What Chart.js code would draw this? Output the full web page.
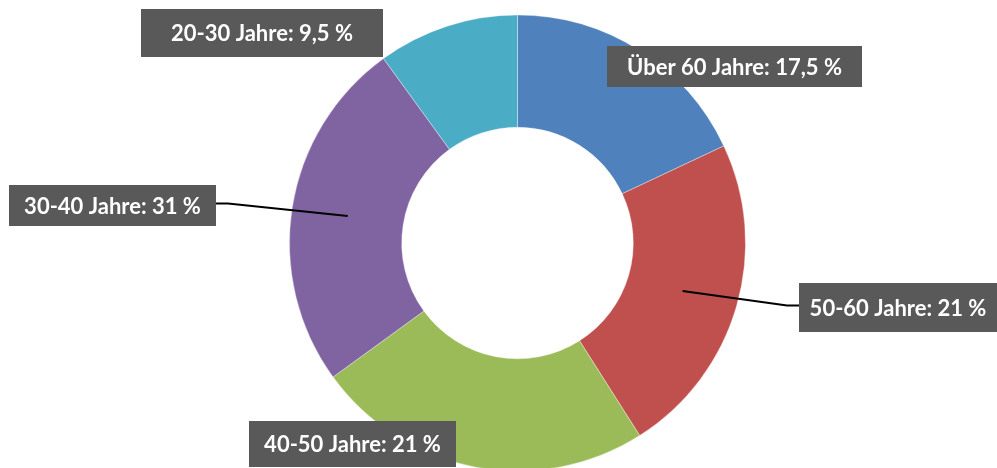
<!DOCTYPE html>
<html>
<head>
<meta charset="utf-8">
<script src="https://cdn.jsdelivr.net/npm/chart.js@4"></script>
<style>
    html, body { margin: 0; padding: 0; background: #ffffff; overflow: hidden; }
    #wrap { position: relative; width: 997px; height: 468px; }
</style>
</head>
<body>
<div id="wrap"><canvas id="ageChart" width="997" height="468"></canvas></div>
<script>
// data, clockwise from the top
const categories = ["Über 60 Jahre", "50-60 Jahre", "40-50 Jahre", "30-40 Jahre", "20-30 Jahre"];
const shares = [18, 23, 24, 25, 10];
const shareLabels = ["17,5 %", "21 %", "21 %", "31 %", "9,5 %"];
const sliceColors = ["#4f81bd", "#c0504d", "#9bbb59", "#8064a2", "#4bacc6"];

// label boxes (left, top, width, height), leader = draw a line to the slice
const labelBoxes = [
    { x: 607, y: 46, w: 255, h: 41, leader: false },
    { x: 799, y: 283, w: 198, h: 49, leader: true, side: "left" },
    { x: 249, y: 421, w: 207, h: 46, leader: false },
    { x: 9, y: 185, w: 207, h: 41, leader: true, side: "right" },
    { x: 141, y: 9, w: 242, h: 48, leader: false },
];

var ageChart = {};

ageChart.labelPlugin = {
    id: "labelBoxes",
    afterDatasetsDraw: function(chart) {
        const ctx = chart.ctx;
        const arcs = chart.getDatasetMeta(0).data;
        ctx.save();
        for (let i = 0; i < arcs.length; i++) {
            const box = labelBoxes[i];
            if (box.leader) {
                const p = arcs[i].tooltipPosition();
                const y = box.y + box.h / 2 - 2;
                const edge = box.side == "left" ? box.x : box.x + box.w;
                const knee = box.side == "left" ? edge - 12 : edge + 12;
                ctx.beginPath();
                ctx.moveTo(edge, y);
                ctx.lineTo(knee, y);
                ctx.lineTo(p.x, p.y);
                ctx.strokeStyle = "#000000";
                ctx.lineWidth = 2;
                ctx.stroke();
            }
            ctx.fillStyle = "#595959";
            ctx.fillRect(box.x, box.y, box.w, box.h);
            ctx.fillStyle = "#ffffff";
            ctx.font = "bold 22px Lato";
            ctx.textAlign = "center";
            ctx.textBaseline = "middle";
            ctx.fillText(categories[i] + ": " + shareLabels[i], box.x + box.w / 2, box.y + box.h / 2 + 1);
        }
        ctx.restore();
    },
};

ageChart.CONFIG = {
    type: "doughnut",
    data: {
        labels: categories,
        datasets: [
            {
                data: shares,
                backgroundColor: sliceColors,
                borderColor: "rgba(255, 255, 255, 0.35)",
                borderWidth: 1,
                radius: 228,
                cutout: 114,
            },
        ],
    },
    options: {
        responsive: false,
        animation: false,
        layout: {
            padding: { top: 18, bottom: 0, left: 38, right: 0 },
        },
        plugins: {
            legend: { display: false },
            tooltip: { enabled: false },
        },
    },
    plugins: [ageChart.labelPlugin],
};

ageChart.element = document.getElementById("ageChart");
ageChart.chart = new Chart(ageChart.element, ageChart.CONFIG);
</script>
</body>
</html>
